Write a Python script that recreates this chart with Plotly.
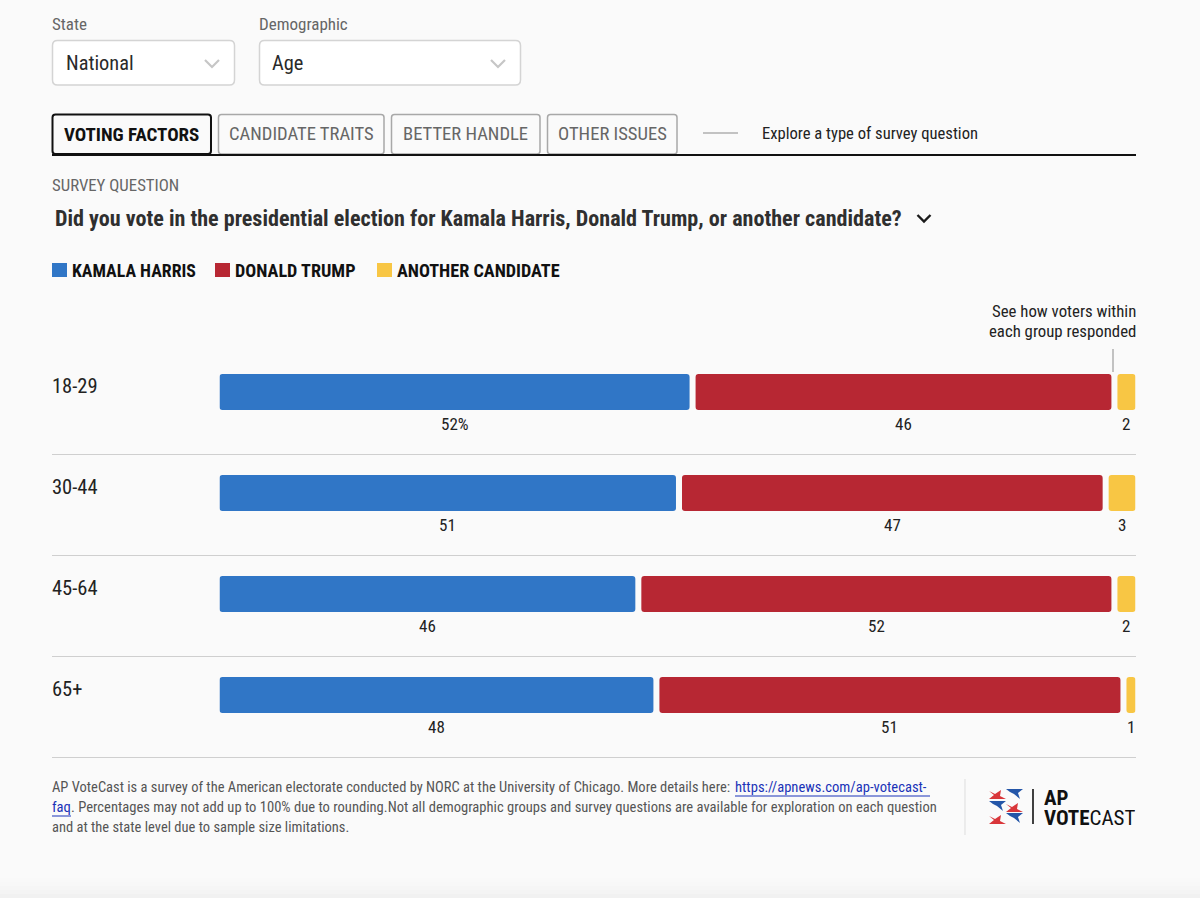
import plotly.graph_objects as go

W, H = 1200, 898
BG = "#fafafa"
FONT = "Roboto Condensed, Roboto, sans-serif"
DARK = "#222222"
GREY = "#666666"

categories = ["18-29", "30-44", "45-64", "65+"]
series_names = ["KAMALA HARRIS", "DONALD TRUMP", "ANOTHER CANDIDATE"]
harris = [52, 51, 46, 48]
trump = [46, 47, 52, 51]
other = [2, 3, 2, 1]
colors = ["#3076c6", "#b72733", "#f8c644"]
tabs = ["VOTING FACTORS", "CANDIDATE TRAITS", "BETTER HANDLE", "OTHER ISSUES"]
question = "Did you vote in the presidential election for Kamala Harris, Donald Trump, or another candidate?"

GAP = 6 / 904 * 100
series = [harris, trump, other]
totals = [sum(r) for r in zip(*series)]
shapes, ann = [], []


def px(x):
    return x / W


def py(y):
    return 1 - y / H


def text(x, y, s, size=16, color=DARK, anchor="left", bold=False, family=FONT, height=None):
    a = dict(xref="paper", yref="paper", x=px(x), y=py(y), text=f"<b>{s}</b>" if bold else s,
             showarrow=False, xanchor=anchor, yanchor="middle", align=anchor, borderpad=0, borderwidth=0,
             font=dict(family=family, size=size, color=color))
    if height:
        a["height"] = height
    ann.append(a)


def rect(x0, y0, x1, y1, fill, line=None, lw=0):
    shapes.append(dict(type="rect", xref="paper", yref="paper", x0=px(x0), x1=px(x1), y0=py(y0), y1=py(y1),
                       fillcolor=fill, line=dict(color=line or fill, width=lw), layer="below"))


def line(x0, y0, x1, y1, color, lw=1):
    shapes.append(dict(type="line", xref="paper", yref="paper", x0=px(x0), x1=px(x1), y0=py(y0), y1=py(y1),
                       line=dict(color=color, width=lw)))


def path(points, fill=None, color=None, lw=0, close=True):
    d = "M" + " L".join(f"{px(a):.5f},{py(b):.5f}" for a, b in points) + (" Z" if close else "")
    shapes.append(dict(type="path", xref="paper", yref="paper", path=d,
                       fillcolor=fill or "rgba(0,0,0,0)", line=dict(color=color or "rgba(0,0,0,0)", width=lw)))


def rrect(x0, y0, x1, y1, r, fill, color, lw):
    f = lambda a, b: f"{px(a):.5f},{py(b):.5f}"
    d = (f"M{f(x0 + r, y0)} L{f(x1 - r, y0)} Q{f(x1, y0)} {f(x1, y0 + r)} L{f(x1, y1 - r)} "
         f"Q{f(x1, y1)} {f(x1 - r, y1)} L{f(x0 + r, y1)} Q{f(x0, y1)} {f(x0, y1 - r)} "
         f"L{f(x0, y0 + r)} Q{f(x0, y0)} {f(x0 + r, y0)} Z")
    shapes.append(dict(type="path", xref="paper", yref="paper", path=d, fillcolor=fill,
                       line=dict(color=color, width=lw)))


# page bottom shading
for i, c in enumerate(["#f9f9f9", "#f8f8f8", "#f6f6f6", "#f4f4f4", "#f1f1f1"]):
    rect(0, 878 + i * 4, W, 882 + i * 4, c)

# selects
text(52, 24, "State", 17, GREY)
text(259, 24, "Demographic", 17, GREY)
rrect(52.5, 40.5, 234.5, 85, 5, "#ffffff", "#d4d4d4", 1.5)
rrect(259.5, 40.5, 520.5, 85, 5, "#ffffff", "#d4d4d4", 1.5)
text(66, 63, "National", 20.4, "#2a2a2a")
text(272, 63, "Age", 20.4, "#2a2a2a")
for cx in (212, 498):
    path([(cx - 7, 60), (cx, 67), (cx + 7, 60)], color="#c6c6c6", lw=2.2, close=False)

# tabs
tab_x = [(52, 212), (218, 385), (391, 541), (547, 678)]
for i, (name, (a, b)) in enumerate(zip(tabs, tab_x)):
    active = i == 0
    rrect(a + 0.5, 114.5, b - 1, 154, 3, BG, "#111111" if active else "#a8a8a8", 2 if active else 1.5)
    text((a + b) / 2 - 0.5, 134, name, 19 if active else 18.6, "#111111" if active else "#666666", "center", bold=active)
line(52, 155, 1136, 155, "#111111", 2)
line(703, 133, 738, 133, "#8a8a8a", 1)
text(762, 133, "Explore a type of survey question", 16.6, "#222222")

text(52, 185, "SURVEY QUESTION", 16.8, GREY)
text(54.5, 218, question, 22.1, "#2f2f2f", bold=True)
path([(917.5, 215), (924, 221.5), (930.5, 215)], color="#1a1a1a", lw=2.4, close=False)

# legend
for name, c, x, size in zip(series_names, colors, (52, 215, 377), (17.8, 18.2, 18.2)):
    rect(x, 263, x + 15, 277, c)
    text(x + 20, 270, name, size, "#111111", bold=True)

text(1136, 311, "See how voters within", 16.8, "#222222", "right")
text(1136, 331, "each group responded", 16.8, "#222222", "right")
line(1113, 349, 1113, 372, "#8a8a8a", 1)

# bars, drawn through the axes
fig = go.Figure()
for s, (name, vals, c) in enumerate(zip(series_names, series, colors)):
    share = [v / t * 100 for v, t in zip(vals, totals)]
    base = [sum(series[k][r] / totals[r] * 100 for k in range(s)) + s * GAP for r in range(len(categories))]
    fig.add_trace(go.Bar(y=categories, x=share, base=base, name=name, orientation="h",
                         marker=dict(color=c, line=dict(width=0)), showlegend=False))
    for r, cat in enumerate(categories):
        lab = f"{vals[r]}%" if s == 0 and r == 0 else str(vals[r])
        ann.append(dict(xref="x", yref="y", x=base[r] + share[r] / 2, y=cat, yshift=-32, text=lab,
                        showarrow=False, xanchor="center", yanchor="middle",
                        font=dict(family=FONT, size=17, color="#222222")))

# row labels and separators
for r, cat in enumerate(categories):
    text(52, 386 + r * 101, cat, 20.5, "#222222")
    line(52, 454.5 + r * 101, 1136, 454.5 + r * 101, "#cfcfcf", 1)

# footer
text(52, 787, "AP VoteCast is a survey of the American electorate conducted by NORC at the University of Chicago. More details here:", 14.5, "#555555")
text(735, 787, "https://apnews.com/ap-votecast-", 14.6, "#1a33b8")
line(735, 796, 930, 796, "#1a33b8", 1)
text(52, 807, "faq", 14.6, "#1a33b8")
line(52, 816, 71, 816, "#1a33b8", 1)
text(71, 807, ". Percentages may not add up to 100% due to rounding.Not all demographic groups and survey questions are available for exploration on each question", 14.58, "#555555")
text(52, 827, "and at the state level due to sample size limitations.", 14.5, "#555555")
line(965, 779, 965, 835, "#dddddd", 1)

# logo
RED, BLUE = "#d9363a", "#2456a8"
star_l = [(0, 1), (6, 4), (12, 0), (11, 6), (17, 9), (0, 9), (5, 5)]
star_r = [(0, 0), (17, 0), (12, 4), (14, 10), (8, 5), (4, 3)]
for ox, oy, c, pts in [(989, 790, RED, star_l), (1006, 789, BLUE, star_r),
                       (989, 801, BLUE, star_r), (1006, 803, RED, star_l),
                       (989, 815, RED, star_l), (1006, 813, BLUE, star_r)]:
    path([(ox + a, oy + b) for a, b in pts], fill=c)
line(1033, 789, 1033, 824, "#111111", 1.6)
text(1044, 797, "AP", 21, "#111111", bold=True, height=17)
text(1044, 817, "<b>VOTE</b>CAST", 21, "#111111", height=17)

fig.update_layout(
    width=W, height=H, autosize=False, margin=dict(l=0, r=0, t=0, b=0),
    paper_bgcolor=BG, plot_bgcolor="rgba(0,0,0,0)", barmode="overlay", bargap=1 - 36 / 101, barcornerradius=3,
    xaxis=dict(domain=[px(219.5), px(1135.5)], range=[0, 100 + 2 * GAP], visible=False, fixedrange=True),
    yaxis=dict(domain=[py(745.5), py(341.5)], type="category", categoryorder="array", categoryarray=categories,
               autorange="reversed", visible=False, fixedrange=True),
    shapes=shapes, annotations=ann, hovermode=False,
)
fig.write_html("out.html", config=dict(displayModeBar=False),
               post_script=f"document.body.style.margin='0';document.body.style.background='{BG}';document.documentElement.style.overflow='hidden';window.dispatchEvent(new Event('resize'));")
